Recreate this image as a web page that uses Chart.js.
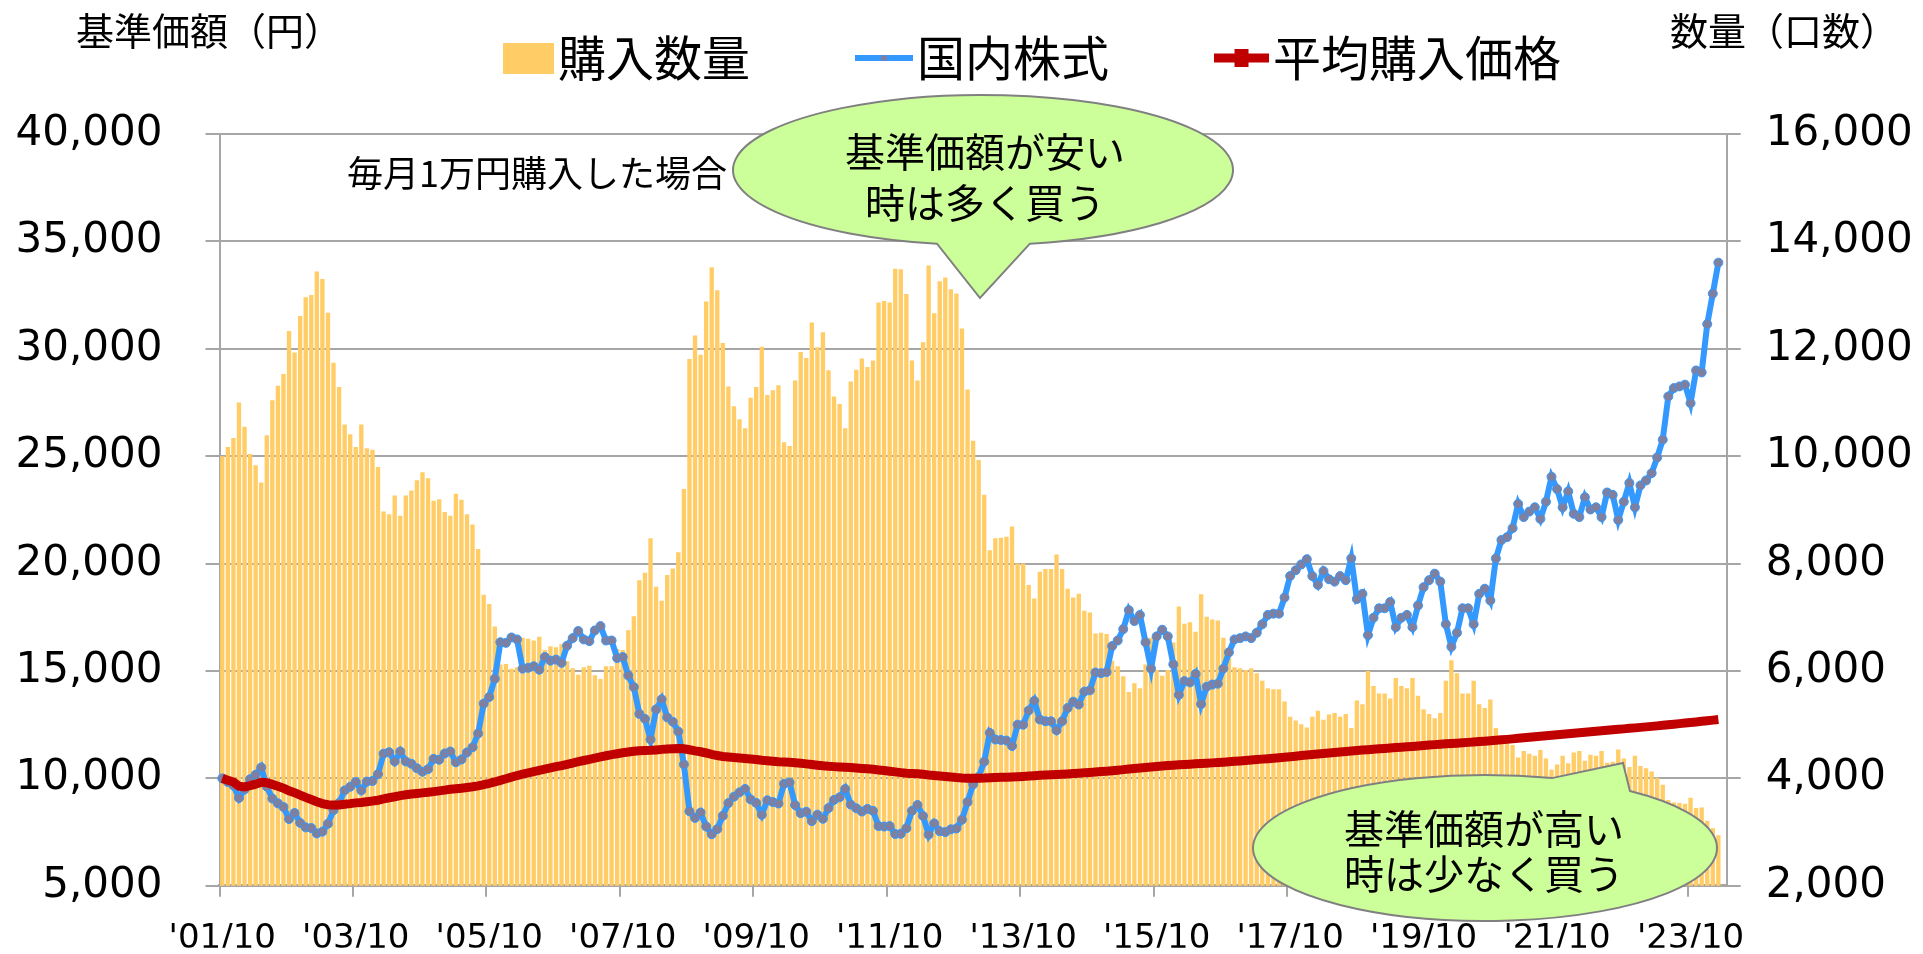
<!DOCTYPE html>
<html>
<head>
<meta charset="utf-8">
<title>基準価額と購入数量</title>
<script src="https://cdn.jsdelivr.net/npm/chart.js@4.4.1/dist/chart.umd.min.js"></script>
<style>
  html, body { margin: 0; padding: 0; background: #fff; }
  #chart { display: block; }
</style>
</head>
<body>
<canvas id="chart" width="1923" height="954"></canvas>
<script>
// monthly points from '01/10, one empty slot kept at the end of the axis
const startYear = 2001;
const startMonth = 10;
const slotCount = 271;
const tickEvery = 24;
const xTickLabels = ["'01/10", "'03/10", "'05/10", "'07/10", "'09/10", "'11/10",
                     "'13/10", "'15/10", "'17/10", "'19/10", "'21/10", "'23/10"];

const priceMin = 5000, priceMax = 40000, priceStep = 5000;
const unitMin = 2000, unitMax = 16000, unitStep = 2000;

// 購入数量 (口数)
const units = [
  10000,10170,10340,11000,10550,10040,9830,9510,10390,11040,
  11310,11530,12330,11930,12610,12960,13000,13440,13300,12670,
  11740,11290,10590,10410,10170,10590,10150,10120,9800,8970,
  8920,9270,8890,9270,9360,9550,9700,9590,9170,9200,
  8960,8890,9300,9190,8920,8730,8270,7420,7250,6830,
  6120,6130,6040,6070,6620,6600,6570,6640,6390,6460,
  6440,6500,6180,6050,5930,6070,6100,5920,5850,6090,
  6090,6410,6390,6760,7020,7690,7830,8470,7570,7310,
  7790,7910,8210,9390,11810,12250,11890,12880,13520,13090,
  12110,11300,10930,10690,10520,11090,11290,12040,11140,11230,
  11320,10260,10190,11410,11940,11830,12490,12030,12310,11600,
  11110,10970,10520,11390,11610,11820,11660,11780,12860,12890,
  12860,13490,13480,13020,11780,11410,12120,13550,12660,13260,
  13330,13110,13030,12380,11240,10290,9930,9280,8250,8470,
  8480,8500,8690,8000,8000,7600,7350,7850,7900,7900,
  8170,7900,7530,7370,7440,7120,7090,6700,6710,6690,
  6190,6090,5900,5610,5770,5680,6120,6620,6020,5910,
  6020,6530,7200,6880,6910,6730,7430,7010,6960,6940,
  6620,6300,6070,6050,6020,6050,5960,5820,5680,5660,
  5660,5430,5150,5080,5010,4950,5150,5260,5090,5190,
  5220,5150,5200,4940,5450,5380,6000,5720,5580,5580,
  5490,5870,5720,5680,5870,5540,5290,5200,5120,5220,
  5820,6200,5960,5580,5580,5820,5380,5310,5470,4940,
  4740,4710,4620,4390,4510,4460,4420,4530,4370,4160,
  4260,4420,4280,4480,4510,4330,4440,4420,4510,4290,
  4310,4540,4370,4210,4420,4230,4190,4130,4010,3880,
  3600,3550,3540,3530,3640,3450,3460,3210,3070,2940
];

// 国内株式 基準価額 (円)
const navPrice = [
  10000,9830,9670,9090,9480,9960,10170,10510,9620,9060,
  8840,8670,8110,8390,7930,7720,7690,7440,7520,7890,
  8520,8860,9440,9610,9830,9440,9850,9880,10200,11150,
  11220,10790,11250,10790,10680,10470,10310,10430,10910,10870,
  11160,11250,10750,10880,11210,11450,12090,13480,13790,14640,
  16340,16310,16560,16470,15110,15150,15220,15060,15650,15480,
  15530,15380,16180,16530,16860,16470,16390,16890,17090,16420,
  16420,15600,15650,14790,14250,13000,12770,11810,13210,13680,
  12840,12640,12180,10650,8470,8160,8410,7760,7400,7640,
  8260,8850,9150,9350,9510,9020,8860,8310,8980,8900,
  8830,9750,9810,8760,8380,8450,8010,8310,8120,8620,
  9000,9120,9510,8780,8610,8460,8580,8490,7780,7760,
  7780,7410,7420,7680,8490,8760,8250,7380,7900,7540,
  7500,7630,7670,8080,8900,9720,10070,10780,12120,11810,
  11790,11760,11510,12500,12500,13160,13610,12740,12660,12660,
  12240,12660,13280,13570,13440,14040,14100,14930,14900,14950,
  16160,16420,16950,17830,17330,17610,16340,15110,16610,16920,
  16610,15310,13890,14530,14470,14860,13460,14270,14370,14410,
  15110,15870,16470,16530,16610,16530,16780,17180,17610,17670,
  17670,18420,19420,19690,19960,20200,19420,19010,19650,19270,
  19160,19420,19230,20240,18350,18590,16670,17480,17920,17920,
  18210,17040,17480,17610,17040,18050,18900,19230,19530,19160,
  17180,16130,16780,17920,17920,17180,18590,18830,18280,20240,
  21100,21230,21650,22780,22170,22420,22620,22080,22880,24040,
  23470,22620,23360,22320,22170,23090,22520,22620,22170,23310,
  23200,22030,22880,23750,22620,23640,23870,24210,24940,25770,
  27780,28170,28250,28330,27470,28990,28900,31150,32570,34010
];

// 平均購入価格 (円)
const avgCost = [
  10000,9916,9833,9636,9604,9662,9732,9823,9801,9721,
  9634,9546,9418,9335,9226,9115,9017,8912,8826,8774,
  8761,8766,8793,8824,8861,8882,8914,8945,8984,9042,
  9099,9144,9196,9236,9272,9301,9326,9352,9386,9418,
  9454,9491,9516,9544,9575,9609,9652,9709,9768,9834,
  9911,9986,10062,10135,10196,10256,10315,10371,10431,10488,
  10544,10597,10656,10715,10776,10833,10888,10945,11002,11054,
  11106,11150,11194,11231,11263,11283,11300,11306,11327,11351,
  11368,11381,11391,11381,11335,11284,11240,11183,11119,11063,
  11022,10993,10969,10949,10931,10907,10881,10847,10824,10801,
  10777,10766,10756,10732,10704,10677,10644,10616,10586,10564,
  10548,10533,10523,10505,10485,10463,10444,10423,10393,10364,
  10336,10302,10270,10242,10225,10212,10193,10162,10140,10113,
  10086,10062,10038,10020,10011,10008,10009,10014,10027,10037,
  10048,10058,10067,10081,10094,10110,10128,10142,10156,10169,
  10180,10194,10209,10226,10241,10259,10277,10297,10317,10337,
  10361,10384,10409,10436,10461,10486,10509,10528,10551,10574,
  10597,10616,10630,10647,10663,10680,10692,10708,10723,10738,
  10755,10774,10795,10815,10836,10856,10876,10897,10919,10941,
  10963,10986,11011,11036,11062,11087,11111,11135,11159,11183,
  11206,11229,11252,11277,11298,11320,11337,11357,11377,11396,
  11416,11434,11453,11472,11489,11508,11529,11551,11572,11593,
  11610,11625,11641,11659,11677,11694,11713,11732,11751,11772,
  11795,11817,11840,11865,11888,11912,11936,11959,11983,12008,
  12032,12056,12080,12102,12125,12148,12171,12194,12216,12239,
  12262,12284,12306,12330,12352,12375,12398,12422,12446,12471,
  12497,12524,12550,12577,12602,12629,12656,12684,12713,12742
];

const monthLabels = [];
for (let k = 0; k < slotCount; k++) {
  const m = startMonth - 1 + k;
  monthLabels.push((startYear + Math.floor(m / 12)) + '/' + String(m % 12 + 1).padStart(2, '0'));
}

const jpFont = '"Noto Sans CJK JP", "Noto Sans CJK SC", sans-serif';
const numFont = '"DejaVu Sans", Verdana, sans-serif';
const gridGray = '#a6a6a6';

function drawBubble(ctx, b) {
  ctx.beginPath();
  ctx.ellipse(b.cx, b.cy, b.rx, b.ry, 0, b.a0, b.a1);
  ctx.lineTo(b.tipX, b.tipY);
  ctx.closePath();
  ctx.fillStyle = '#ccff99';
  ctx.fill();
  ctx.lineWidth = 2;
  ctx.strokeStyle = '#808080';
  ctx.stroke();
  ctx.fillStyle = '#000';
  ctx.font = '40px ' + jpFont;
  ctx.textAlign = 'center';
  ctx.textBaseline = 'middle';
  b.lines.forEach((t, k) => ctx.fillText(t, b.tx, b.ty[k]));
}

function drawSwatch(ctx, ds, x, y) {
  if (ds.type === 'bar') {
    ctx.fillStyle = ds.backgroundColor;
    ctx.fillRect(x, y - 15, 51, 31);
    return 51;
  }
  const len = ds.swatchLen;
  ctx.strokeStyle = ds.borderColor;
  ctx.lineWidth = ds.borderWidth;
  ctx.beginPath();
  ctx.moveTo(x, y);
  ctx.lineTo(x + len, y);
  ctx.stroke();
  if (ds.swatchMarker === 'square') {
    ctx.fillStyle = ds.borderColor;
    ctx.fillRect(x + len / 2 - 7, y - 9, 14, 18);
  } else {
    ctx.fillStyle = ds.pointBackgroundColor;
    ctx.beginPath();
    ctx.arc(x + len / 2, y, 3, 0, Math.PI * 2);
    ctx.fill();
  }
  return len;
}

const notesPlugin = {
  id: 'notes',
  afterDraw(chart) {
    const ctx = chart.ctx;
    ctx.save();

    // axis titles and caption
    ctx.fillStyle = '#000';
    ctx.textBaseline = 'middle';
    ctx.textAlign = 'left';
    ctx.font = '38px ' + jpFont;
    ctx.fillText('基準価額（円）', 76, 31);
    ctx.fillText('数量（口数）', 1670, 31);
    ctx.font = '36px ' + jpFont;
    ctx.fillText('毎月1万円購入した場合', 347, 173);

    // legend
    let x = 503;
    const y = 58;
    chart.data.datasets.forEach(ds => {
      x += drawSwatch(ctx, ds, x, y) + 4;
      ctx.font = '48px ' + jpFont;
      ctx.fillStyle = '#000';
      ctx.textAlign = 'left';
      ctx.textBaseline = 'middle';
      ctx.fillText(ds.label, x, y);
      x += ctx.measureText(ds.label).width + 105;
    });

    // speech bubbles
    drawBubble(ctx, {
      cx: 983, cy: 170, rx: 250, ry: 75, a0: 1.756, a1: 1.382,
      tipX: 980, tipY: 298,
      tx: 985, ty: [152, 203], lines: ['基準価額が安い', '時は多く買う']
    });
    drawBubble(ctx, {
      cx: 1485, cy: 848, rx: 232, ry: 73, a0: -0.896, a1: -1.278,
      tipX: 1623, tipY: 763,
      tx: 1484, ty: [829, 874], lines: ['基準価額が高い', '時は少なく買う']
    });
    ctx.restore();
  }
};

const ctx = document.getElementById('chart').getContext('2d');
new Chart(ctx, {
  data: {
    labels: monthLabels,
    datasets: [
      {
        type: 'bar',
        label: '購入数量',
        data: units,
        yAxisID: 'y2',
        backgroundColor: '#ffcc66',
        borderWidth: 0,
        barPercentage: 0.78,
        categoryPercentage: 1.0,
        order: 3
      },
      {
        type: 'line',
        label: '国内株式',
        data: navPrice,
        yAxisID: 'y',
        borderColor: '#3399ff',
        borderWidth: 6,
        pointRadius: 4.5,
        pointBackgroundColor: '#7f7f9f',
        pointBorderColor: '#3399ff',
        pointBorderWidth: 1,
        tension: 0,
        swatchLen: 58,
        swatchMarker: 'circle',
        order: 2
      },
      {
        type: 'line',
        label: '平均購入価格',
        data: avgCost,
        yAxisID: 'y',
        borderColor: '#c00000',
        borderWidth: 9,
        pointRadius: 0,
        tension: 0,
        swatchLen: 55,
        swatchMarker: 'square',
        order: 1
      }
    ]
  },
  options: {
    responsive: false,
    animation: false,
    devicePixelRatio: 1,
    layout: { padding: { top: 134, left: 0, right: 0, bottom: 0 } },
    plugins: {
      legend: { display: false },
      tooltip: { enabled: false }
    },
    scales: {
      x: {
        type: 'category',
        offset: true,
        grid: {
          offset: true,
          drawOnChartArea: false,
          drawTicks: true,
          tickLength: 11,
          lineWidth: 2,
          color: c => (c.index % tickEvery === 0 ? gridGray : 'rgba(0,0,0,0)')
        },
        border: { display: true, color: gridGray, width: 3 },
        ticks: {
          autoSkip: false,
          maxRotation: 0,
          minRotation: 0,
          padding: 22,
          color: '#000',
          font: { family: numFont, size: 34 },
          callback: (v, i) => (i % tickEvery === 0 ? xTickLabels[i / tickEvery] : '')
        },
        afterFit: s => { s.height = 62; }
      },
      y: {
        type: 'linear',
        position: 'left',
        min: priceMin,
        max: priceMax,
        grid: { color: gridGray, lineWidth: 2, tickLength: 14 },
        border: { display: true, color: gridGray, width: 2 },
        ticks: {
          stepSize: priceStep,
          padding: 43,
          color: '#000',
          font: { family: numFont, size: 42 },
          callback: v => v.toLocaleString('en-US')
        },
        afterFit: s => { s.width = 219.5; }
      },
      y2: {
        type: 'linear',
        position: 'right',
        min: unitMin,
        max: unitMax,
        grid: { drawOnChartArea: false, color: gridGray, lineWidth: 2, tickLength: 14 },
        border: { display: true, color: gridGray, width: 2 },
        ticks: {
          stepSize: unitStep,
          padding: 25,
          color: '#000',
          font: { family: numFont, size: 42 },
          callback: v => v.toLocaleString('en-US')
        },
        afterFit: s => { s.width = 196.3; }
      }
    }
  },
  plugins: [notesPlugin]
});
</script>
</body>
</html>
